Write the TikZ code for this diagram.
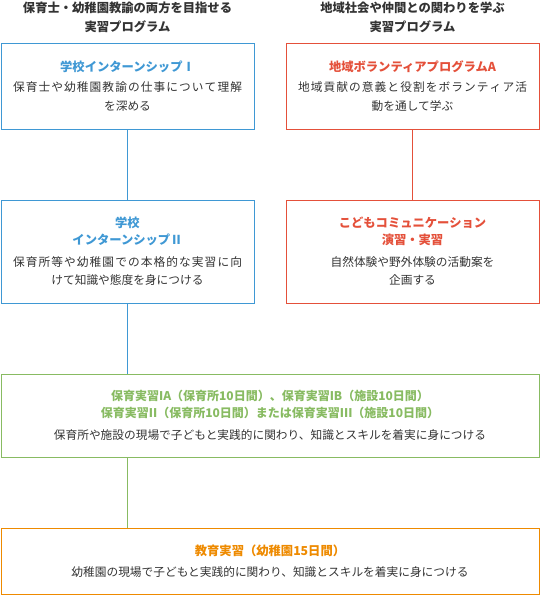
\documentclass[tikz,border=0pt]{standalone}
\usepackage{fontspec}
\usepackage{xcolor}
\setmainfont{Noto Sans CJK JP}
\usetikzlibrary{positioning}
\definecolor{progblue}{HTML}{3F98D4}
\definecolor{progred}{HTML}{E4503A}
\definecolor{proggreen}{HTML}{88BB62}
\definecolor{progorange}{HTML}{EE8A00}
\definecolor{progtext}{HTML}{333333}
% justified first lines of the wrapped texts
\def\spreadfirst#1{#1\spreadrest}
\def\spreadrest#1{\ifx#1\relax\else\hskip 0pt plus 1fil#1\expandafter\spreadrest\fi}
\newcommand\spreadline[1]{\makebox[229pt][s]{\spreadfirst#1\relax}}

\begin{document}
\begin{tikzpicture}[x=1pt, y=-1pt,
  progbox/.style={draw, line width=1pt, inner sep=0pt, align=center, text=progtext,
    font=\fontsize{11.7}{18.5}\selectfont},
  header/.style={align=center, text=progtext, font=\fontsize{12.3}{19}\selectfont\bfseries}]

\useasboundingbox (0,0) rectangle (540,595);

% column headers
\node[header] (hdl) at (127.5,17.5) {保育士・幼稚園教諭の両方を目指せる\\実習プログラム};
\node[header] (hdr) at (412.5,17.5) {地域社会や仲間との関わりを学ぶ\\実習プログラム};

% left column
\node[progbox, draw=progblue, minimum width=253pt, minimum height=86pt] (intern1) at (127.5,86)
  {{\color{progblue}\fontsize{12.3}{17}\selectfont\bfseries 学校インターンシップⅠ}\\[2pt]
   \spreadline{保育士や幼稚園教諭の仕事について理解}\\を深める};
\node[progbox, draw=progblue, minimum width=253pt, minimum height=103pt] (intern2) at (127.5,251.5)
  {{\color{progblue}\fontsize{12.3}{17}\selectfont\bfseries 学校}\\[-1.5pt]
   {\color{progblue}\fontsize{12.3}{17}\selectfont\bfseries インターンシップⅡ}\\[3pt]
   \spreadline{保育所等や幼稚園での本格的な実習に向}\\けて知識や態度を身につける};

% right column
\node[progbox, draw=progred, minimum width=253pt, minimum height=86pt] (volA) at (412.5,86)
  {{\color{progred}\fontsize{12.3}{17}\selectfont\bfseries 地域ボランティアプログラムA}\\[2pt]
   \spreadline{地域貢献の意義と役割をボランティア活}\\動を通して学ぶ};
\node[progbox, draw=progred, minimum width=253pt, minimum height=103pt] (comm) at (412.5,251.5)
  {{\color{progred}\fontsize{12.3}{17}\selectfont\bfseries こどもコミュニケーション}\\[-1.5pt]
   {\color{progred}\fontsize{12.3}{17}\selectfont\bfseries 演習・実習}\\[3pt]
   自然体験や野外体験の活動案を\\企画する};

% full width boxes
\node[progbox, draw=proggreen, minimum width=538pt, minimum height=83pt] (hoiku) at (270,415.5)
  {{\color{proggreen}\fontsize{12}{17}\selectfont\bfseries 保育実習IA（保育所10日間）、保育実習IB（施設10日間）}\\[-1.5pt]
   {\color{proggreen}\fontsize{12}{17}\selectfont\bfseries 保育実習II（保育所10日間）または保育実習III（施設10日間）}\\[3pt]
   保育所や施設の現場で子どもと実践的に関わり、知識とスキルを着実に身につける};
\node[progbox, draw=progorange, minimum width=538pt, minimum height=66pt] (kyoiku) at (270,561)
  {{\color{progorange}\fontsize{12.3}{17}\selectfont\bfseries 教育実習（幼稚園15日間）}\\[2pt]
   幼稚園の現場で子どもと実践的に関わり、知識とスキルを着実に身につける};

% connectors
\draw[progblue, line width=1pt] (intern1) -- (intern2);
\draw[progred, line width=1pt] (volA) -- (comm);
\draw[progblue, line width=1pt] (intern2.south) -- (intern2.south |- hoiku.north);
\draw[proggreen, line width=1pt] (intern2.south |- hoiku.south) -- (intern2.south |- kyoiku.north);

\end{tikzpicture}
\end{document}
